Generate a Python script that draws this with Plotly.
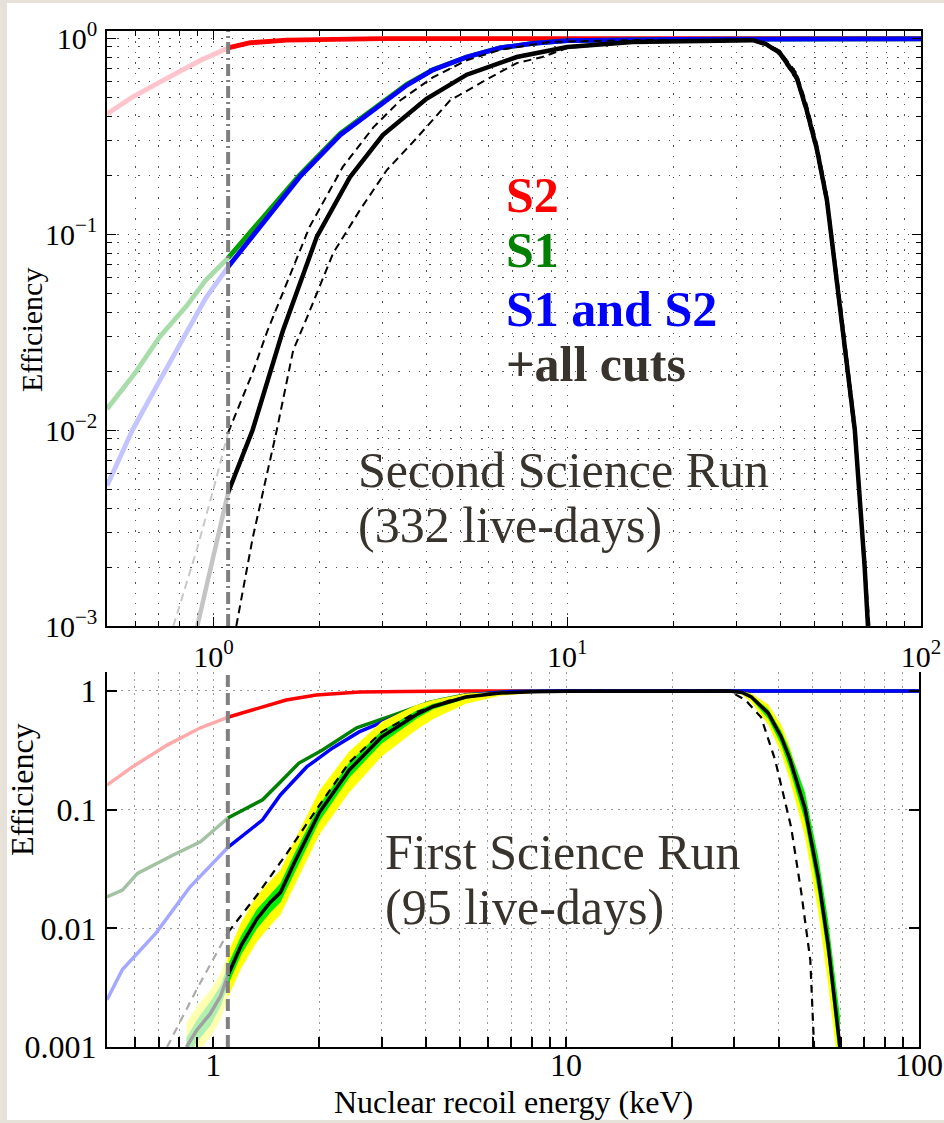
import math
import plotly.graph_objects as go

# ---------------- data ----------------
THRESHOLD_KEV = 1.1
X_RANGE = [0.5, 100.0]
TOP_Y_RANGE = [1e-3, 1.086]
BOT_Y_RANGE = [1e-3, 1.445]

# Top panel: Second Science Run (332 live-days)
top_s2_e = [0.5, 0.59, 0.74, 0.92, 1.1, 1.27, 1.61, 2.0, 2.5, 3.0, 5.0, 10.0, 100.0]
top_s2 = [0.41, 0.50, 0.625, 0.77, 0.89, 0.946, 0.976, 0.985, 0.99, 0.992, 0.993, 0.993, 0.993]

top_s1_e = [0.5, 0.6, 0.706, 0.84, 0.95, 1.1, 1.42, 1.75, 2.28, 2.83, 3.52, 4.17, 5.2, 6.46, 8.0, 10.0, 20.0, 100.0]
top_s1 = [0.0128, 0.0195, 0.030, 0.043, 0.058, 0.0755, 0.128, 0.20, 0.325, 0.435, 0.58, 0.69, 0.80, 0.89, 0.94, 0.97, 0.985, 0.99]

top_s1s2_e = [0.5, 0.59, 0.7, 0.84, 0.95, 1.1, 1.42, 1.75, 2.28, 2.83, 3.52, 4.17, 5.2, 6.46, 8.0, 10.0, 20.0, 100.0]
top_s1s2 = [0.0052, 0.010, 0.0175, 0.032, 0.047, 0.068, 0.122, 0.195, 0.32, 0.43, 0.575, 0.687, 0.80, 0.89, 0.94, 0.97, 0.985, 0.99]

top_cuts_e = [0.9, 1.0, 1.1, 1.29, 1.57, 1.96, 2.43, 3.01, 4.0, 5.2, 7.2, 10.0, 15.3, 25.0, 33.5,
              36.5, 39.9, 44.5, 47.5, 50.8, 54.2, 56.4, 59.7, 65.0, 69.3, 70.8]
top_cuts = [0.001, 0.0023, 0.0048, 0.010, 0.032, 0.097, 0.195, 0.32, 0.49, 0.65, 0.80, 0.90, 0.955, 0.975, 0.975,
            0.93, 0.84, 0.63, 0.43, 0.27, 0.149, 0.083, 0.036, 0.010, 0.002, 0.001]

top_cuts_hi_e = [0.77, 0.9, 1.0, 1.1, 1.29, 1.42, 1.51, 1.87, 2.32, 2.83, 3.37, 4.17, 5.2, 6.46, 8.9, 15.0, 25.0,
                 33.5, 36.5, 39.9, 44.5, 47.5, 50.8, 54.2, 56.4, 59.7, 65.0, 69.3, 71.5]
top_cuts_hi = [0.001, 0.0025, 0.005, 0.0097, 0.0196, 0.032, 0.042, 0.109, 0.22, 0.35, 0.48, 0.63, 0.77, 0.87, 0.955,
               0.975, 0.98, 0.98, 0.94, 0.86, 0.66, 0.46, 0.29, 0.16, 0.09, 0.04, 0.011, 0.0023, 0.001]

top_cuts_lo_e = [1.16, 1.29, 1.51, 1.68, 1.84, 2.18, 2.59, 3.09, 3.76, 4.66, 5.78, 7.2, 8.5, 10.0, 15.0, 25.0,
                 33.5, 36.5, 39.9, 44.5, 47.5, 50.8, 54.2, 56.4, 59.7, 65.0, 69.3, 70.5]
top_cuts_lo = [0.001, 0.0028, 0.010, 0.0255, 0.0377, 0.080, 0.132, 0.212, 0.31, 0.48, 0.60, 0.745, 0.80, 0.89, 0.95,
               0.97, 0.97, 0.92, 0.82, 0.61, 0.41, 0.255, 0.14, 0.077, 0.033, 0.009, 0.0018, 0.001]

# Bottom panel: First Science Run (95 live-days)
bot_s2_e = [0.5, 0.59, 0.74, 0.92, 1.1, 1.38, 1.61, 1.96, 2.6, 3.5, 5.0, 10.0, 100.0]
bot_s2 = [0.161, 0.229, 0.35, 0.49, 0.60, 0.733, 0.84, 0.925, 0.98, 0.99, 1.0, 1.0, 1.0]

bot_s1_e = [0.5, 0.553, 0.61, 0.77, 0.92, 1.1, 1.38, 1.55, 1.75, 2.04, 2.55, 3.21, 3.59, 4.09, 4.46, 5.2, 7.0, 10.0, 100.0]
bot_s1 = [0.0184, 0.021, 0.029, 0.0415, 0.0535, 0.085, 0.121, 0.171, 0.247, 0.318, 0.49, 0.62, 0.70, 0.80, 0.85, 0.93, 0.99, 1.0, 1.0]

bot_s1s2_e = [0.5, 0.553, 0.69, 0.86, 1.1, 1.38, 1.55, 1.84, 2.18, 2.59, 3.21, 3.95, 5.2, 7.0, 10.0, 100.0]
bot_s1s2 = [0.0025, 0.0045, 0.0092, 0.0224, 0.048, 0.082, 0.133, 0.229, 0.331, 0.452, 0.59, 0.76, 0.92, 0.99, 1.0, 1.0]

bot_cuts_e = [0.84, 0.9, 0.98, 1.05, 1.1, 1.2, 1.33, 1.45, 1.55, 1.7, 2.0, 2.43, 3.0, 3.76, 4.2, 5.2, 6.5, 8.0, 10.0,
              20.0, 29.0, 31.5, 33.5, 37.4, 40.7, 43.0, 47.5, 51.8, 55.2, 59.7]
bot_cuts = [0.001, 0.0014, 0.0019, 0.0027, 0.004, 0.0072, 0.012, 0.0165, 0.020, 0.036, 0.095, 0.216, 0.41, 0.63, 0.74,
            0.89, 0.96, 0.985, 0.995, 1.0, 1.0, 0.97, 0.89, 0.65, 0.41, 0.27, 0.103, 0.027, 0.0075, 0.001]
bot_band1_lo = [0.0008, 0.0011, 0.0015, 0.0022, 0.0033, 0.006, 0.0099, 0.0135, 0.0165, 0.029, 0.08, 0.186, 0.36, 0.58,
                0.70, 0.86, 0.95, 0.98, 0.99, 1.0, 1.0, 0.95, 0.85, 0.58, 0.35, 0.22, 0.080, 0.020, 0.0055, 0.0007]
bot_band1_hi = [0.0012, 0.0017, 0.0024, 0.0033, 0.0049, 0.0087, 0.0145, 0.0195, 0.024, 0.043, 0.11, 0.25, 0.46, 0.68,
                0.78, 0.91, 0.97, 0.99, 1.0, 1.0, 1.0, 0.99, 0.92, 0.70, 0.46, 0.32, 0.14, 0.040, 0.012, 0.0018]
bot_band2_lo = [0.0006, 0.0009, 0.0012, 0.0017, 0.0026, 0.0046, 0.0077, 0.0105, 0.013, 0.023, 0.062, 0.14, 0.28, 0.47,
                0.58, 0.78, 0.91, 0.96, 0.985, 1.0, 1.0, 0.93, 0.80, 0.52, 0.30, 0.18, 0.060, 0.014, 0.0035, 0.0005]
bot_band2_hi = [0.0016, 0.0022, 0.003, 0.0042, 0.0062, 0.0112, 0.019, 0.025, 0.031, 0.055, 0.145, 0.31, 0.55, 0.76,
                0.84, 0.95, 0.985, 0.995, 1.0, 1.0, 1.0, 1.0, 0.95, 0.77, 0.52, 0.34, 0.13, 0.034, 0.0095, 0.0013]

bot_cuts_old_e = [0.74, 0.9, 1.1, 1.33, 1.61, 1.96, 2.43, 3.0, 3.76, 4.66, 6.0, 8.0, 10.0, 20.0, 29.0,
                  32.2, 35.7, 38.0, 39.1, 43.4, 46.4, 49.2, 50.5]
bot_cuts_old = [0.001, 0.0031, 0.0092, 0.019, 0.042, 0.10, 0.25, 0.45, 0.66, 0.83, 0.95, 0.99, 1.0, 1.0, 1.0,
                0.84, 0.60, 0.34, 0.263, 0.0715, 0.0199, 0.0054, 0.0009]

major_x = [1, 10, 100]
minor_x = [0.6, 0.7, 0.8, 0.9, 2, 3, 4, 5, 6, 7, 8, 9, 20, 30, 40, 50, 60, 70, 80, 90]
major_y = [0.001, 0.01, 0.1, 1]
minor_y = [m * d for d in (0.001, 0.01, 0.1) for m in range(2, 10)]
top_x_labels = ["10<sup>0</sup>", "10<sup>1</sup>", "10<sup>2</sup>"]
top_y_labels = ["10<sup>−3</sup>", "10<sup>−2</sup>", "10<sup>−1</sup>", "10<sup>0</sup>"]
bot_x_labels = ["1", "10", "100"]
bot_y_labels = ["0.001", "0.01", "0.1", "1"]

# ---------------- style ----------------
W, H = 944, 1123
SERIF = "Liberation Serif"
TXT = "#38332d"


def px_x(p):
    return p / W


def px_y(p):
    return 1 - p / H


fig = go.Figure()


def split(e, v):
    lo = [(a, b) for a, b in zip(e, v) if a <= THRESHOLD_KEV]
    hi = [(a, b) for a, b in zip(e, v) if a >= THRESHOLD_KEV]
    return lo, hi


def line(e, v, color, pale, width, dash, xa, ya):
    lo, hi = split(e, v)
    for pts, c in ((lo, pale), (hi, color)):
        if len(pts) < 2 or c is None:
            continue
        fig.add_trace(go.Scatter(x=[p[0] for p in pts], y=[p[1] for p in pts], mode="lines",
                                 line=dict(color=c, width=width, dash=dash),
                                 xaxis=xa, yaxis=ya, hoverinfo="skip", showlegend=False))


def band(e, lo_v, hi_v, color, pale, xa, ya):
    lo_a, lo_b = split(e, lo_v)
    hi_a, hi_b = split(e, hi_v)
    for lpts, hpts, c in ((lo_a, hi_a, pale), (lo_b, hi_b, color)):
        xs = [p[0] for p in hpts] + [p[0] for p in lpts][::-1]
        ys = [p[1] for p in hpts] + [p[1] for p in lpts][::-1]
        fig.add_trace(go.Scatter(x=xs, y=ys, mode="lines", fill="toself", fillcolor=c,
                                 line=dict(width=0, color=c), xaxis=xa, yaxis=ya,
                                 hoverinfo="skip", showlegend=False))


# top panel traces
line(top_s2_e, top_s2, "#ff0000", "#ffc4cc", 4.8, "solid", "x", "y")
line(top_s1_e, top_s1, "#00a000", "#a8dca8", 4.8, "solid", "x", "y")
line(top_s1s2_e, top_s1s2, "#0000ff", "#c4c4ff", 4.8, "solid", "x", "y")
line(top_cuts_hi_e, top_cuts_hi, "#000000", "#c8c8c8", 2, "8px,5px", "x", "y")
line(top_cuts_lo_e, top_cuts_lo, "#000000", "#c8c8c8", 2, "8px,5px", "x", "y")
line(top_cuts_e, top_cuts, "#000000", "#c4c4c4", 4.5, "solid", "x", "y")
fig.add_trace(go.Scatter(x=[THRESHOLD_KEV, THRESHOLD_KEV], y=TOP_Y_RANGE, mode="lines",
                         line=dict(color="#808080", width=4, dash="12px,4px,2px,4px"),
                         xaxis="x", yaxis="y", hoverinfo="skip", showlegend=False))

# bottom panel traces
line(bot_s2_e, bot_s2, "#ff0000", "#ffaaaa", 3.5, "solid", "x2", "y2")
line(bot_s1_e, bot_s1, "#008000", "#a3c2a3", 3.5, "solid", "x2", "y2")
line(bot_s1s2_e, bot_s1s2, "#0000ff", "#a4a8ff", 3.5, "solid", "x2", "y2")
band(bot_cuts_e, bot_band2_lo, bot_band2_hi, "#ffff00", "#ffffb0", "x2", "y2")
band(bot_cuts_e, bot_band1_lo, bot_band1_hi, "#00ee00", "#b0f0b0", "x2", "y2")
line(bot_cuts_old_e, bot_cuts_old, "#000000", "#aaaaaa", 2.2, "8px,6px", "x2", "y2")
line(bot_cuts_e, bot_cuts, "#000000", "#a0a0a0", 3.5, "solid", "x2", "y2")
fig.add_trace(go.Scatter(x=[THRESHOLD_KEV, THRESHOLD_KEV], y=BOT_Y_RANGE, mode="lines",
                         line=dict(color="#808080", width=4, dash="12px,6px"),
                         xaxis="x2", yaxis="y2", hoverinfo="skip", showlegend=False))

tickfont = dict(family=SERIF, size=30, color="black")
tickfont2 = dict(family=SERIF, size=32, color="black")
top_grid = dict(showgrid=True, gridcolor="#555555", gridwidth=1.4, griddash="1.4px,9px")
bot_grid = dict(showgrid=True, gridcolor="#9a9a9a", gridwidth=1.2, griddash="2px,5px")

fig.update_layout(
    template="none",
    width=W, height=H, autosize=False,
    margin=dict(l=0, r=0, t=0, b=0, pad=0),
    paper_bgcolor="#e6e2d9",
    plot_bgcolor="white",
    showlegend=False,
    font=dict(family=SERIF, color="black"),
    xaxis=dict(domain=[px_x(107), px_x(921)], anchor="y", type="log", automargin=False,
               range=[math.log10(X_RANGE[0]), math.log10(X_RANGE[1])],
               showline=True, linecolor="black", linewidth=1.5, mirror="allticks",
               ticks="inside", ticklen=9, tickwidth=1.2, tickcolor="black",
               tickvals=major_x, ticktext=top_x_labels, tickfont=tickfont,
               ticklabelstandoff=3, zeroline=False, **top_grid,
               minor=dict(tickvals=minor_x, ticks="inside", ticklen=5, tickwidth=1, tickcolor="black",
                          **top_grid)),
    yaxis=dict(domain=[px_y(626), px_y(31)], anchor="x", type="log", automargin=False,
               range=[math.log10(TOP_Y_RANGE[0]), math.log10(TOP_Y_RANGE[1])],
               showline=True, linecolor="black", linewidth=1.5, mirror="allticks",
               ticks="inside", ticklen=9, tickwidth=1.2, tickcolor="black",
               tickvals=major_y, ticktext=top_y_labels, tickfont=tickfont,
               ticklabelstandoff=2, zeroline=False, **top_grid,
               minor=dict(tickvals=minor_y, ticks="inside", ticklen=5, tickwidth=1, tickcolor="black",
                          **top_grid)),
    xaxis2=dict(domain=[px_x(107), px_x(919)], anchor="y2", type="log", automargin=False,
                range=[math.log10(X_RANGE[0]), math.log10(X_RANGE[1])],
                showline=True, linecolor="black", linewidth=2.2, mirror=False,
                ticks="inside", ticklen=10, tickwidth=1.5, tickcolor="black",
                tickvals=major_x, ticktext=bot_x_labels, tickfont=tickfont2,
                ticklabelstandoff=-12, zeroline=False, **bot_grid,
                minor=dict(tickvals=minor_x, ticks="inside", ticklen=10, tickwidth=1.5, tickcolor="black",
                           **bot_grid)),
    yaxis2=dict(domain=[px_y(1047), px_y(672)], anchor="x2", type="log", automargin=False,
                range=[math.log10(BOT_Y_RANGE[0]), math.log10(BOT_Y_RANGE[1])],
                showline=True, linecolor="black", linewidth=2.2, mirror="ticks",
                ticks="inside", ticklen=10, tickwidth=1.5, tickcolor="black",
                tickvals=major_y, ticktext=bot_y_labels, tickfont=tickfont2,
                ticklabelstandoff=2, zeroline=False, **bot_grid),
    shapes=[dict(type="rect", xref="paper", yref="paper", layer="below",
                 x0=px_x(7), x1=1.0, y0=px_y(1120), y1=px_y(3),
                 fillcolor="white", line=dict(width=0))],
)


def note(text, x, y, size, color, xanchor="left", bold=False, angle=0):
    fig.add_annotation(text=("<b>%s</b>" % text) if bold else text, xref="paper", yref="paper",
                       x=px_x(x), y=px_y(y), xanchor=xanchor, yanchor="middle", showarrow=False,
                       textangle=angle, font=dict(family=SERIF, size=size, color=color))


note("S2", 504, 195, 50, "#ff0000", bold=True)
note("S1", 504, 250, 50, "#008000", bold=True)
note("S1 and S2", 504, 309, 50, "#0000ff", bold=True)
note("+all cuts", 504, 364, 50, TXT, bold=True)
note("Second Science Run", 356, 470, 50, TXT)
note("(332 live-days)", 356, 525, 50, TXT)
note("First Science Run", 383, 852, 50, TXT)
note("(95 live-days)", 383, 907, 50, TXT)
note("Efficiency", 32, 330, 30, "black", xanchor="center", angle=-90)
note("Efficiency", 22, 790, 32, "black", xanchor="center", angle=-90)
note("Nuclear recoil energy (keV)", 513, 1102, 32, "black", xanchor="center")

fig.write_html("out.html")
